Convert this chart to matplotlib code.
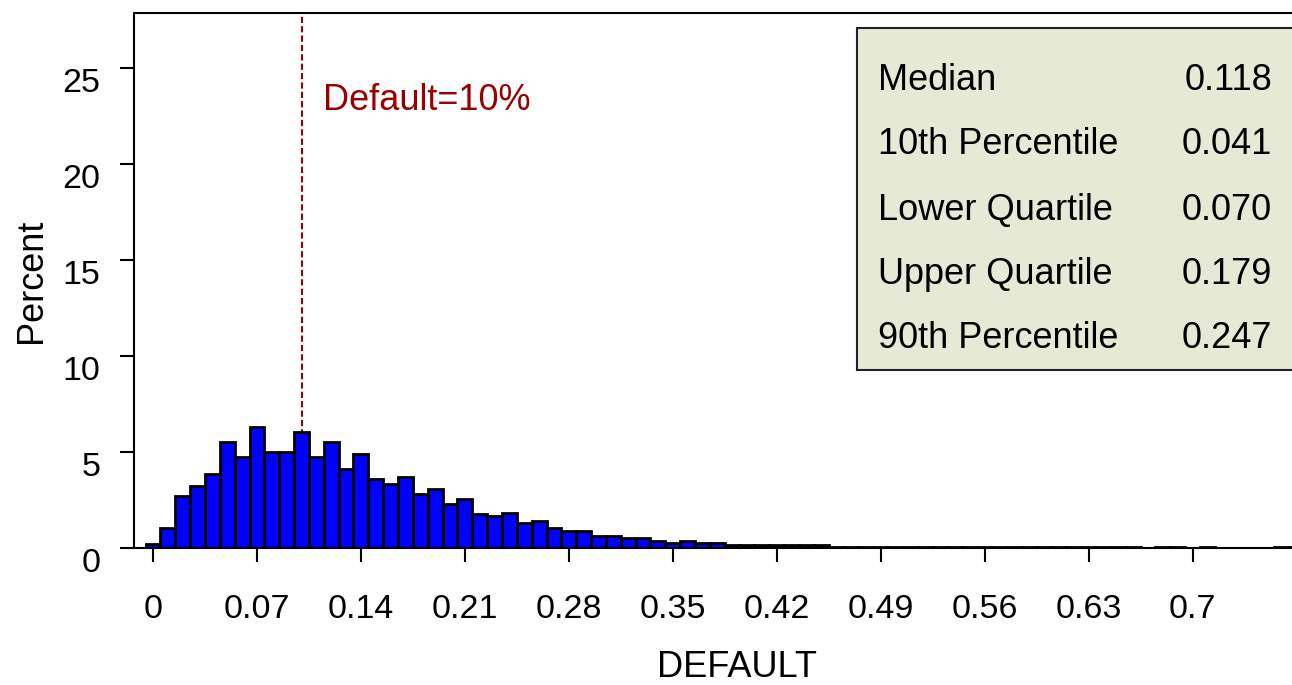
import numpy as np
import matplotlib
matplotlib.use("Agg")
import matplotlib.pyplot as plt
import matplotlib.transforms as mtransforms
from matplotlib.patches import Rectangle

plt.rcParams['font.family'] = ['Liberation Sans', 'DejaVu Sans']

# Histogram data: percent of observations per bin (bin width 0.01, bins centred on 0, 0.01, ...)
bin_width = 0.01
percent = [0.21, 1.03, 2.71, 3.23, 3.85, 5.52, 4.74, 6.30, 5.00, 5.00,
           6.06, 4.74, 5.52, 4.11, 4.90, 3.59, 3.33, 3.71, 2.81, 3.07,
           2.29, 2.55, 1.77, 1.67, 1.81, 1.29, 1.42, 1.02, 0.90, 0.90,
           0.64, 0.64, 0.50, 0.50, 0.38, 0.24, 0.38, 0.26, 0.24, 0.15,
           0.15, 0.15, 0.15, 0.15, 0.15, 0.15, 0.05, 0.05, 0.05, 0.05,
           0.05, 0.05, 0.05, 0.05, 0.05, 0.05, 0.05, 0.05, 0.05, 0.05,
           0.05, 0.05, 0.05, 0.05, 0.05, 0.05, 0.05, 0.0, 0.05, 0.05,
           0.0, 0.05, 0.0, 0.0, 0.0, 0.0, 0.05, 0.05]

xticks = [0, 0.07, 0.14, 0.21, 0.28, 0.35, 0.42, 0.49, 0.56, 0.63, 0.7]
xtick_labels = ['0', '0.07', '0.14', '0.21', '0.28', '0.35', '0.42', '0.49', '0.56', '0.63', '0.7']
yticks = [0, 5, 10, 15, 20, 25]

reference_x = 0.10
reference_label = 'Default=10%'

stat_names = ['Median', '10th Percentile', 'Lower Quartile', 'Upper Quartile', '90th Percentile']
stat_values = ['0.118', '0.041', '0.070', '0.179', '0.247']

TICK_FS = 24.5
TEXT_FS = 26

W, H = 1292, 685
fig = plt.figure(figsize=(W / 100, H / 100), dpi=100)
ax = fig.add_axes([134 / W, 137 / H, (1341 - 134) / W, 535 / H])

centers = np.arange(len(percent)) * bin_width
ax.bar(centers, percent, width=bin_width, color='#0000FF', edgecolor='black',
       linewidth=2.0, zorder=2)

ax.set_xlim(-0.0128, 0.80)
ax.set_ylim(0, 27.86)

ax.vlines(reference_x, 0, 27.86, colors='#990000', linestyles=(0, (3, 1.5)),
          linewidth=1.5, zorder=1)
ax.text(0.1145, 23.3, reference_label, color='#990000', fontsize=TEXT_FS,
        va='center', ha='left')

ax.set_xticks(xticks)
ax.set_xticklabels(xtick_labels)
ax.set_yticks(yticks)
ax.tick_params(axis='both', labelsize=TICK_FS, length=10, width=1.5, direction='out')
ax.tick_params(axis='x', pad=23)
ax.tick_params(axis='y', pad=14)
for s in ['left', 'bottom', 'top']:
    ax.spines[s].set_linewidth(1.5)
ax.spines['right'].set_visible(False)

# y tick labels sit slightly below their ticks, as in the reference
shift = mtransforms.ScaledTranslation(0, -12 / 100, fig.dpi_scale_trans)
for lbl in ax.get_yticklabels():
    lbl.set_transform(lbl.get_transform() + shift)

ax.set_xlabel('DEFAULT', fontsize=TEXT_FS, labelpad=18)
ax.set_ylabel('Percent', fontsize=TEXT_FS, labelpad=10)

# statistics box
box = Rectangle((857 / W, 1 - 370 / H), (1400 - 857) / W, (370 - 28) / H,
                transform=fig.transFigure, facecolor='#E6EAD5', edgecolor='#222222',
                linewidth=1.5, zorder=5)
fig.patches.append(box)
row_y = [80, 145, 210, 274, 339]
for name, val, y in zip(stat_names, stat_values, row_y):
    fig.text(878 / W, 1 - y / H, name, fontsize=TEXT_FS, va='center', ha='left', zorder=6)
    fig.text(1272 / W, 1 - y / H, val, fontsize=TEXT_FS, va='center', ha='right', zorder=6)

fig.savefig('out.png', dpi=100)
